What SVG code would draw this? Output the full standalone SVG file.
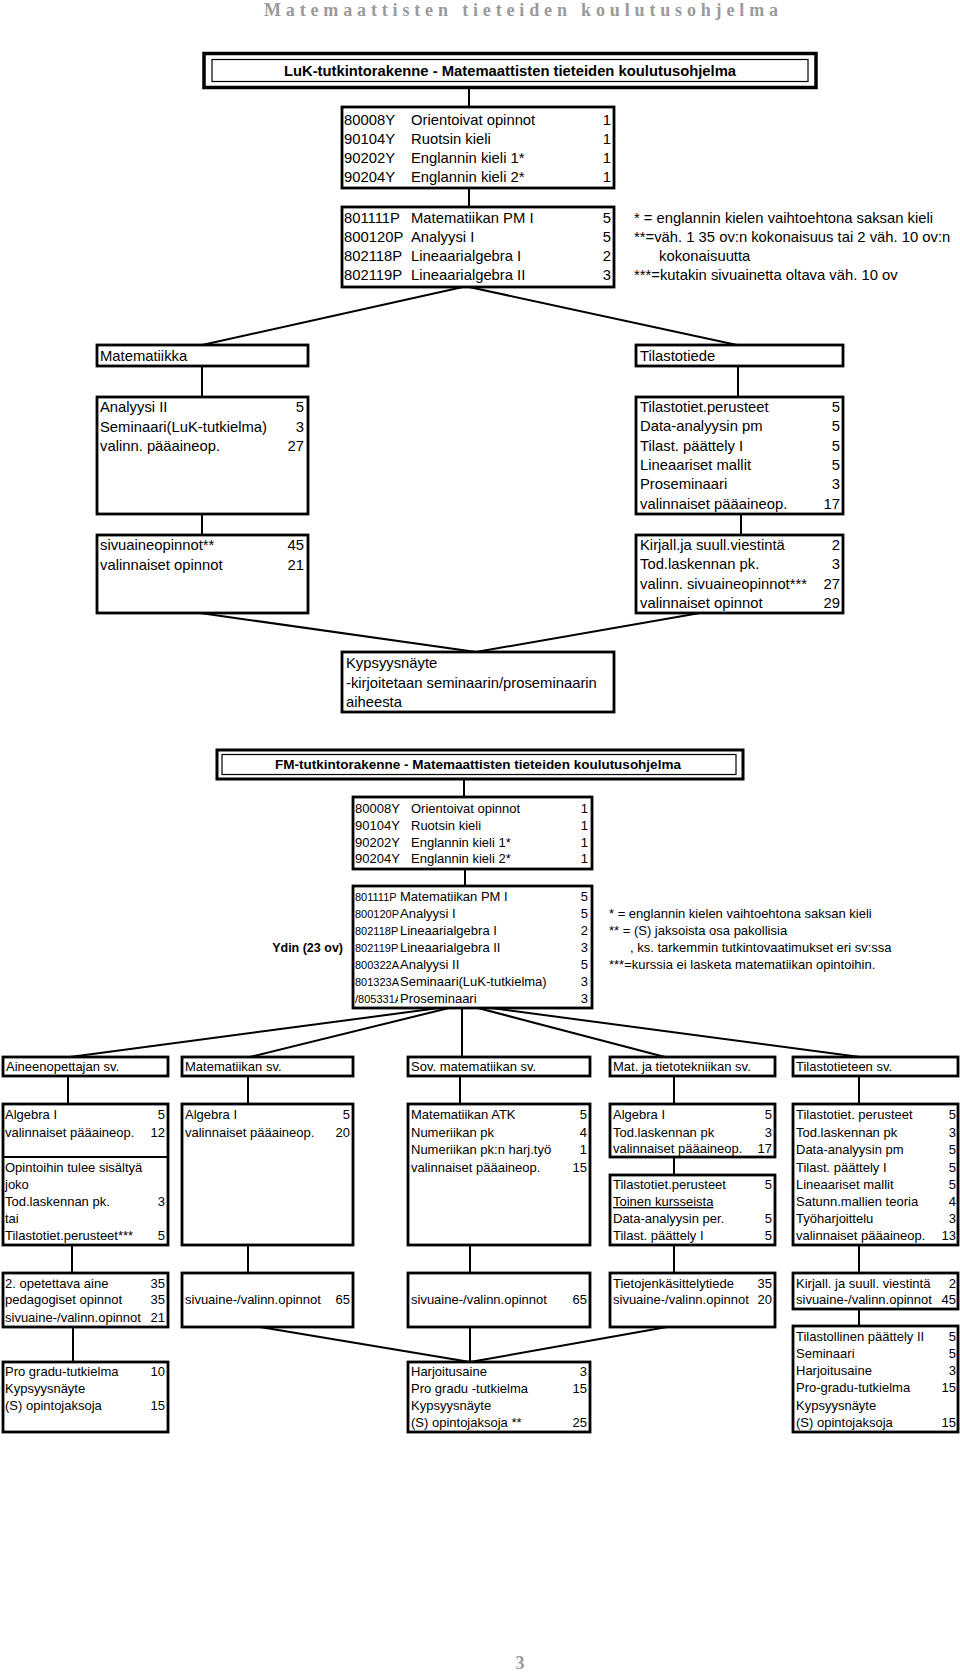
<svg xmlns="http://www.w3.org/2000/svg" width="960" height="1672" viewBox="0 0 960 1672">
<defs>
<style>
text{font-family:"Liberation Sans",Arial,Helvetica,sans-serif;fill:#000}
.h{font-family:"Liberation Serif","Times New Roman",serif;font-weight:bold;font-size:18px;fill:#9a9a9a}
.a{font-size:14.8px}
.b{font-size:13px}
.code{font-size:11px}
.r{text-anchor:end}
.c{text-anchor:middle}
.bold{font-weight:bold}
.box{fill:#fff;stroke:#000;stroke-width:2.8}
.thin{fill:none;stroke:#000;stroke-width:1.2}
.thick{fill:#fff;stroke:#000;stroke-width:3.5}
.ln{stroke:#000;stroke-width:2;fill:none}
</style>
<clipPath id="clipcode"><rect x="350" y="990" width="48" height="18"/></clipPath>
</defs>
<rect width="960" height="1672" fill="#fff"/>

<text class="h" x="264" y="15.5" textLength="514" lengthAdjust="spacing">Matemaattisten tieteiden koulutusohjelma</text>

<g id="connectors">
<line class="ln" x1="469" y1="87" x2="469" y2="107"/>
<line class="ln" x1="469" y1="188" x2="469" y2="207"/>
<line class="ln" x1="463" y1="287" x2="202" y2="345"/>
<line class="ln" x1="469" y1="287" x2="737" y2="345"/>
<line class="ln" x1="202" y1="366" x2="202" y2="397"/>
<line class="ln" x1="202" y1="514" x2="202" y2="535"/>
<line class="ln" x1="738" y1="366" x2="738" y2="397"/>
<line class="ln" x1="741" y1="514" x2="741" y2="535"/>
<line class="ln" x1="200" y1="613" x2="476" y2="652"/>
<line class="ln" x1="700" y1="613" x2="476" y2="652"/>
<line class="ln" x1="464" y1="780" x2="464" y2="797"/>
<line class="ln" x1="465" y1="869" x2="465" y2="886"/>
<line class="ln" x1="439" y1="1008" x2="70" y2="1057"/>
<line class="ln" x1="449" y1="1008" x2="250" y2="1057"/>
<line class="ln" x1="462" y1="1008" x2="462" y2="1057"/>
<line class="ln" x1="478" y1="1008" x2="665" y2="1057"/>
<line class="ln" x1="491" y1="1008" x2="860" y2="1057"/>
<line class="ln" x1="68" y1="1076" x2="68" y2="1104"/>
<line class="ln" x1="248" y1="1076" x2="248" y2="1104"/>
<line class="ln" x1="460" y1="1076" x2="460" y2="1104"/>
<line class="ln" x1="674" y1="1076" x2="674" y2="1104"/>
<line class="ln" x1="859" y1="1076" x2="859" y2="1104"/>
<line class="ln" x1="72" y1="1245" x2="72" y2="1273"/>
<line class="ln" x1="248" y1="1245" x2="248" y2="1273"/>
<line class="ln" x1="470" y1="1245" x2="470" y2="1273"/>
<line class="ln" x1="674" y1="1157" x2="674" y2="1175"/>
<line class="ln" x1="674" y1="1245" x2="674" y2="1273"/>
<line class="ln" x1="859" y1="1245" x2="859" y2="1273"/>
<line class="ln" x1="73" y1="1327" x2="73" y2="1362"/>
<line class="ln" x1="260" y1="1327" x2="470" y2="1362"/>
<line class="ln" x1="470" y1="1327" x2="470" y2="1362"/>
<line class="ln" x1="667" y1="1327" x2="470" y2="1362"/>
<line class="ln" x1="859" y1="1309" x2="859" y2="1326"/>
</g>

<g id="luk_title">
<rect class="thick" x="204" y="53.5" width="612" height="34"/>
<rect class="thin" x="212" y="59.5" width="596" height="22"/>
<text class="a bold c" x="510" y="76" font-size="14.6">LuK-tutkintorakenne - Matemaattisten tieteiden koulutusohjelma</text>
</g>

<g id="luk_yleis" class="a">
<rect class="box" x="342" y="107" width="272" height="81"/>
<text x="344" y="125">80008Y</text><text x="411" y="125">Orientoivat opinnot</text><text class="r" x="611" y="125">1</text>
<text x="344" y="144">90104Y</text><text x="411" y="144">Ruotsin kieli</text><text class="r" x="611" y="144">1</text>
<text x="344" y="163">90202Y</text><text x="411" y="163">Englannin kieli 1*</text><text class="r" x="611" y="163">1</text>
<text x="344" y="182">90204Y</text><text x="411" y="182">Englannin kieli 2*</text><text class="r" x="611" y="182">1</text>
</g>

<g id="luk_perus" class="a">
<rect class="box" x="342" y="207" width="272" height="80"/>
<text x="344" y="223">801111P</text><text x="411" y="223">Matematiikan PM I</text><text class="r" x="611" y="223">5</text>
<text x="344" y="242">800120P</text><text x="411" y="242">Analyysi I</text><text class="r" x="611" y="242">5</text>
<text x="344" y="261">802118P</text><text x="411" y="261">Lineaarialgebra I</text><text class="r" x="611" y="261">2</text>
<text x="344" y="280">802119P</text><text x="411" y="280">Lineaarialgebra II</text><text class="r" x="611" y="280">3</text>
</g>

<g id="luk_notes" class="a">
<text x="634" y="223">* = englannin kielen vaihtoehtona saksan kieli</text>
<text x="634" y="242">**=väh. 1 35 ov:n kokonaisuus tai 2 väh. 10 ov:n</text>
<text x="659" y="261">kokonaisuutta</text>
<text x="634" y="280">***=kutakin sivuainetta oltava väh. 10 ov</text>
</g>

<g id="matematiikka" class="a">
<rect class="box" x="97" y="345" width="211" height="21"/>
<text x="100" y="361">Matematiikka</text>
</g>
<g id="mat_paa" class="a">
<rect class="box" x="97" y="397" width="211" height="117"/>
<text x="100" y="412">Analyysi II</text><text class="r" x="304" y="412">5</text>
<text x="100" y="431.5">Seminaari(LuK-tutkielma)</text><text class="r" x="304" y="431.5">3</text>
<text x="100" y="451">valinn. pääaineop.</text><text class="r" x="304" y="451">27</text>
</g>
<g id="mat_sivu" class="a">
<rect class="box" x="97" y="535" width="211" height="78"/>
<text x="100" y="550">sivuaineopinnot**</text><text class="r" x="304" y="550">45</text>
<text x="100" y="569.5">valinnaiset opinnot</text><text class="r" x="304" y="569.5">21</text>
</g>

<g id="tilastotiede" class="a">
<rect class="box" x="636" y="345" width="207" height="21"/>
<text x="640" y="361">Tilastotiede</text>
</g>
<g id="til_paa" class="a">
<rect class="box" x="636" y="397" width="207" height="117"/>
<text x="640" y="412">Tilastotiet.perusteet</text><text class="r" x="840" y="412">5</text>
<text x="640" y="431.3">Data-analyysin pm</text><text class="r" x="840" y="431.3">5</text>
<text x="640" y="450.6">Tilast. päättely I</text><text class="r" x="840" y="450.6">5</text>
<text x="640" y="470">Lineaariset mallit</text><text class="r" x="840" y="470">5</text>
<text x="640" y="489.3">Proseminaari</text><text class="r" x="840" y="489.3">3</text>
<text x="640" y="508.6">valinnaiset pääaineop.</text><text class="r" x="840" y="508.6">17</text>
</g>
<g id="til_sivu" class="a">
<rect class="box" x="636" y="535" width="207" height="78"/>
<text x="640" y="550">Kirjall.ja suull.viestintä</text><text class="r" x="840" y="550">2</text>
<text x="640" y="569.3">Tod.laskennan pk.</text><text class="r" x="840" y="569.3">3</text>
<text x="640" y="588.6">valinn. sivuaineopinnot***</text><text class="r" x="840" y="588.6">27</text>
<text x="640" y="608">valinnaiset opinnot</text><text class="r" x="840" y="608">29</text>
</g>

<g id="kypsyysnayte" class="a">
<rect class="box" x="342" y="652" width="272" height="60"/>
<text x="346" y="668">Kypsyysnäyte</text>
<text x="346" y="688">-kirjoitetaan seminaarin/proseminaarin</text>
<text x="346" y="707">aiheesta</text>
</g>

<g id="fm_title">
<rect class="thick" x="217" y="750" width="526" height="29" style="stroke-width:3"/>
<rect class="thin" x="222" y="754.5" width="514" height="20"/>
<text class="bold c" x="478" y="769" font-size="13.5">FM-tutkintorakenne - Matemaattisten tieteiden koulutusohjelma</text>
</g>

<g id="fm_yleis" class="b">
<rect class="box" x="353" y="797" width="239" height="72"/>
<text x="355" y="813">80008Y</text><text x="411" y="813">Orientoivat opinnot</text><text class="r" x="588" y="813">1</text>
<text x="355" y="829.8">90104Y</text><text x="411" y="829.8">Ruotsin kieli</text><text class="r" x="588" y="829.8">1</text>
<text x="355" y="846.6">90202Y</text><text x="411" y="846.6">Englannin kieli 1*</text><text class="r" x="588" y="846.6">1</text>
<text x="355" y="863.4">90204Y</text><text x="411" y="863.4">Englannin kieli 2*</text><text class="r" x="588" y="863.4">1</text>
</g>

<g id="fm_ydin" class="b">
<rect class="box" x="353" y="886" width="239" height="122"/>
<text class="code" x="355" y="900.7">801111P</text><text x="400" y="900.7">Matematiikan PM I</text><text class="r" x="588" y="900.7">5</text>
<text class="code" x="355" y="917.7">800120P</text><text x="400" y="917.7">Analyysi I</text><text class="r" x="588" y="917.7">5</text>
<text class="code" x="355" y="934.7">802118P</text><text x="400" y="934.7">Lineaarialgebra I</text><text class="r" x="588" y="934.7">2</text>
<text class="code" x="355" y="951.7">802119P</text><text x="400" y="951.7">Lineaarialgebra II</text><text class="r" x="588" y="951.7">3</text>
<text class="code" x="355" y="968.7">800322A</text><text x="400" y="968.7">Analyysi II</text><text class="r" x="588" y="968.7">5</text>
<text class="code" x="355" y="985.7">801323A</text><text x="400" y="985.7">Seminaari(LuK-tutkielma)</text><text class="r" x="588" y="985.7">3</text>
<text class="code" x="355" y="1002.7" clip-path="url(#clipcode)">/805331A</text><text x="400" y="1002.7">Proseminaari</text><text class="r" x="588" y="1002.7">3</text>
</g>

<g id="ydin_label">
<text class="bold r" x="343" y="951.7" font-size="12.5">Ydin (23 ov)</text>
</g>

<g id="fm_notes" class="b">
<text x="609" y="917.7">* = englannin kielen vaihtoehtona saksan kieli</text>
<text x="609" y="934.7">** = (S) jaksoista osa pakollisia</text>
<text x="630" y="951.7">, ks. tarkemmin tutkintovaatimukset eri sv:ssa</text>
<text x="609" y="968.7">***=kurssia ei lasketa matematiikan opintoihin.</text>
</g>

<g id="aineenopettaja" class="b">
<rect class="box" x="3" y="1057" width="165" height="19"/>
<text x="6" y="1071">Aineenopettajan sv.</text>
</g>
<g id="aine_paa" class="b">
<rect class="box" x="3" y="1104" width="165" height="141"/>
<line class="ln" x1="3" y1="1157" x2="168" y2="1157"/>
<text x="5" y="1119">Algebra I</text><text class="r" x="165" y="1119">5</text>
<text x="5" y="1136.5">valinnaiset pääaineop.</text><text class="r" x="165" y="1136.5">12</text>
<text x="5" y="1171.5">Opintoihin tulee sisältyä</text>
<text x="5" y="1189">joko</text>
<text x="5" y="1206">Tod.laskennan pk.</text><text class="r" x="165" y="1206">3</text>
<text x="5" y="1223">tai</text>
<text x="5" y="1240">Tilastotiet.perusteet***</text><text class="r" x="165" y="1240">5</text>
</g>
<g id="aine_sivu" class="b">
<rect class="box" x="3" y="1273" width="165" height="54"/>
<text x="5" y="1287.5">2. opetettava aine</text><text class="r" x="165" y="1287.5">35</text>
<text x="5" y="1304">pedagogiset opinnot</text><text class="r" x="165" y="1304">35</text>
<text x="5" y="1321.5">sivuaine-/valinn.opinnot</text><text class="r" x="165" y="1321.5">21</text>
</g>
<g id="aine_gradu" class="b">
<rect class="box" x="3" y="1362" width="165" height="70"/>
<text x="5" y="1376">Pro gradu-tutkielma</text><text class="r" x="165" y="1376">10</text>
<text x="5" y="1393">Kypsyysnäyte</text>
<text x="5" y="1410">(S) opintojaksoja</text><text class="r" x="165" y="1410">15</text>
</g>

<g id="matematiikan_sv" class="b">
<rect class="box" x="182" y="1057" width="171" height="19"/>
<text x="185" y="1071">Matematiikan sv.</text>
</g>
<g id="mat_sv_paa" class="b">
<rect class="box" x="182" y="1104" width="171" height="141"/>
<text x="185" y="1119">Algebra I</text><text class="r" x="350" y="1119">5</text>
<text x="185" y="1136.5">valinnaiset pääaineop.</text><text class="r" x="350" y="1136.5">20</text>
</g>
<g id="mat_sv_sivu" class="b">
<rect class="box" x="182" y="1273" width="171" height="54"/>
<text x="185" y="1304">sivuaine-/valinn.opinnot</text><text class="r" x="350" y="1304">65</text>
</g>

<g id="sov_mat_sv" class="b">
<rect class="box" x="408" y="1057" width="182" height="19"/>
<text x="411" y="1071">Sov. matematiikan sv.</text>
</g>
<g id="sov_paa" class="b">
<rect class="box" x="408" y="1104" width="182" height="141"/>
<text x="411" y="1119">Matematiikan ATK</text><text class="r" x="587" y="1119">5</text>
<text x="411" y="1136.5">Numeriikan pk</text><text class="r" x="587" y="1136.5">4</text>
<text x="411" y="1153.5">Numeriikan pk:n harj.työ</text><text class="r" x="587" y="1153.5">1</text>
<text x="411" y="1171.5">valinnaiset pääaineop.</text><text class="r" x="587" y="1171.5">15</text>
</g>
<g id="sov_sivu" class="b">
<rect class="box" x="408" y="1273" width="182" height="54"/>
<text x="411" y="1304">sivuaine-/valinn.opinnot</text><text class="r" x="587" y="1304">65</text>
</g>
<g id="sov_gradu" class="b">
<rect class="box" x="408" y="1362" width="182" height="70"/>
<text x="411" y="1376">Harjoitusaine</text><text class="r" x="587" y="1376">3</text>
<text x="411" y="1393">Pro gradu -tutkielma</text><text class="r" x="587" y="1393">15</text>
<text x="411" y="1410">Kypsyysnäyte</text>
<text x="411" y="1427">(S) opintojaksoja **</text><text class="r" x="587" y="1427">25</text>
</g>

<g id="mat_tieto_sv" class="b">
<rect class="box" x="610" y="1057" width="165" height="19"/>
<text x="613" y="1071">Mat. ja tietotekniikan sv.</text>
</g>
<g id="mt_paa" class="b">
<rect class="box" x="610" y="1104" width="165" height="53"/>
<text x="613" y="1119">Algebra I</text><text class="r" x="772" y="1119">5</text>
<text x="613" y="1136.5">Tod.laskennan pk</text><text class="r" x="772" y="1136.5">3</text>
<text x="613" y="1153">valinnaiset pääaineop.</text><text class="r" x="772" y="1153">17</text>
</g>
<g id="mt_til" class="b">
<rect class="box" x="610" y="1175" width="165" height="70"/>
<text x="613" y="1189">Tilastotiet.perusteet</text><text class="r" x="772" y="1189">5</text>
<text x="613" y="1206" text-decoration="underline">Toinen kursseista</text>
<text x="613" y="1223">Data-analyysin per.</text><text class="r" x="772" y="1223">5</text>
<text x="613" y="1240">Tilast. päättely I</text><text class="r" x="772" y="1240">5</text>
</g>
<g id="mt_sivu" class="b">
<rect class="box" x="610" y="1273" width="165" height="54"/>
<text x="613" y="1287.5">Tietojenkäsittelytiede</text><text class="r" x="772" y="1287.5">35</text>
<text x="613" y="1304">sivuaine-/valinn.opinnot</text><text class="r" x="772" y="1304">20</text>
</g>

<g id="tilastotieteen_sv" class="b">
<rect class="box" x="793" y="1057" width="165" height="19"/>
<text x="796" y="1071">Tilastotieteen sv.</text>
</g>
<g id="ts_paa" class="b">
<rect class="box" x="793" y="1104" width="165" height="141"/>
<text x="796" y="1119">Tilastotiet. perusteet</text><text class="r" x="956" y="1119">5</text>
<text x="796" y="1136.5">Tod.laskennan pk</text><text class="r" x="956" y="1136.5">3</text>
<text x="796" y="1153.5">Data-analyysin pm</text><text class="r" x="956" y="1153.5">5</text>
<text x="796" y="1171.5">Tilast. päättely I</text><text class="r" x="956" y="1171.5">5</text>
<text x="796" y="1189">Lineaariset mallit</text><text class="r" x="956" y="1189">5</text>
<text x="796" y="1206">Satunn.mallien teoria</text><text class="r" x="956" y="1206">4</text>
<text x="796" y="1223">Työharjoittelu</text><text class="r" x="956" y="1223">3</text>
<text x="796" y="1240">valinnaiset pääaineop.</text><text class="r" x="956" y="1240">13</text>
</g>
<g id="ts_sivu" class="b">
<rect class="box" x="793" y="1273" width="165" height="36"/>
<text x="796" y="1287.5">Kirjall. ja suull. viestintä</text><text class="r" x="956" y="1287.5">2</text>
<text x="796" y="1304">sivuaine-/valinn.opinnot</text><text class="r" x="956" y="1304">45</text>
</g>
<g id="ts_gradu" class="b">
<rect class="box" x="793" y="1326" width="165" height="106"/>
<text x="796" y="1340.7">Tilastollinen päättely II</text><text class="r" x="956" y="1340.7">5</text>
<text x="796" y="1357.5">Seminaari</text><text class="r" x="956" y="1357.5">5</text>
<text x="796" y="1374.7">Harjoitusaine</text><text class="r" x="956" y="1374.7">3</text>
<text x="796" y="1392.4">Pro-gradu-tutkielma</text><text class="r" x="956" y="1392.4">15</text>
<text x="796" y="1409.7">Kypsyysnäyte</text>
<text x="796" y="1427">(S) opintojaksoja</text><text class="r" x="956" y="1427">15</text>
</g>

<text class="h c" x="520" y="1669">3</text>
</svg>
